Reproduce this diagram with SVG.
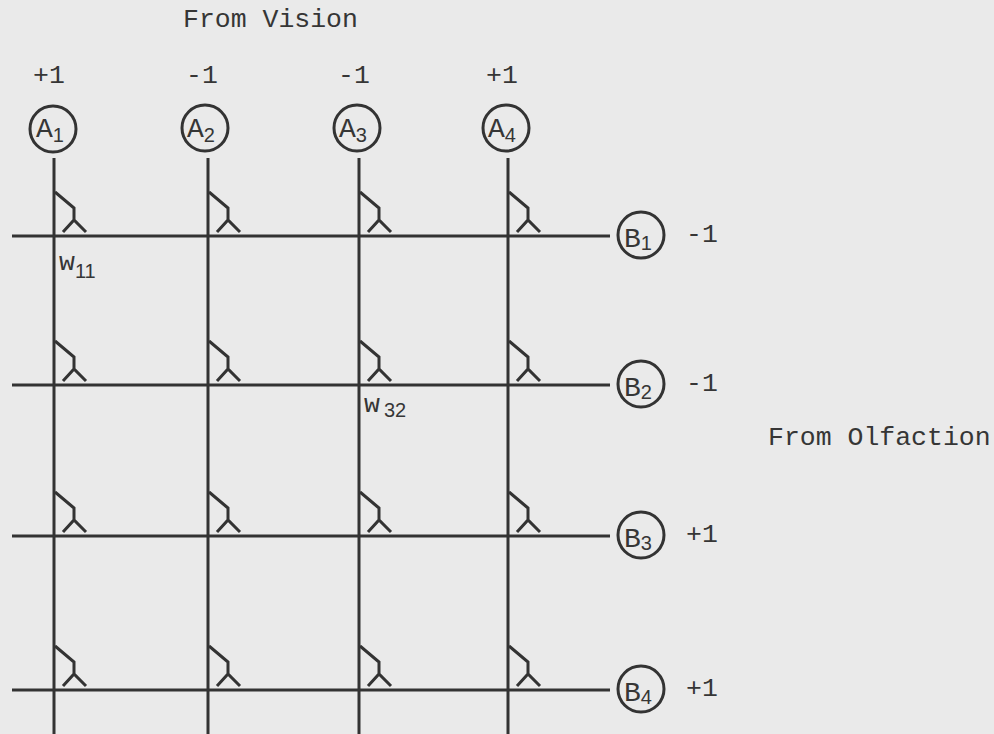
<svg xmlns="http://www.w3.org/2000/svg" width="994" height="734" viewBox="0 0 994 734">
<style>
.ln{stroke:#333;stroke-width:3;fill:none;stroke-linecap:butt}
.syn{stroke:#333;stroke-width:3;fill:none;stroke-linejoin:miter}
.node{stroke:#333;stroke-width:3;fill:none}
.t{font-family:"Liberation Mono","Courier New",monospace;font-size:26.5px;fill:#363636}
.lt{font-size:28px}
.sub{font-family:"Liberation Sans",Arial,sans-serif;font-size:20px}
</style>
<defs>
<path id="syn" class="syn" d="M0,-44 L19,-28 L19,-16 M8,-4 L19,-16 L31,-4"/>
</defs>
<rect width="994" height="734" fill="#eaeaea"/>
<text class="t" x="183" y="27">From Vision</text>
<text class="t" x="768" y="445">From Olfaction</text>
<g id="connectors">
<line class="ln" x1="54" y1="158" x2="54" y2="734"/>
<line class="ln" x1="208" y1="158" x2="208" y2="734"/>
<line class="ln" x1="359" y1="158" x2="359" y2="734"/>
<line class="ln" x1="508" y1="158" x2="508" y2="734"/>
<line class="ln" x1="12" y1="236" x2="610" y2="236"/>
<line class="ln" x1="12" y1="385" x2="610" y2="385"/>
<line class="ln" x1="12" y1="536" x2="610" y2="536"/>
<line class="ln" x1="12" y1="690" x2="610" y2="690"/>
</g>
<g id="synapses">
<use href="#syn" x="55" y="236"/><use href="#syn" x="209" y="236"/><use href="#syn" x="360" y="236"/><use href="#syn" x="509" y="236"/>
<use href="#syn" x="55" y="385"/><use href="#syn" x="209" y="385"/><use href="#syn" x="360" y="385"/><use href="#syn" x="509" y="385"/>
<use href="#syn" x="55" y="536"/><use href="#syn" x="209" y="536"/><use href="#syn" x="360" y="536"/><use href="#syn" x="509" y="536"/>
<use href="#syn" x="55" y="690"/><use href="#syn" x="209" y="690"/><use href="#syn" x="360" y="690"/><use href="#syn" x="509" y="690"/>
</g>
<g id="A1"><circle class="node" cx="53" cy="129" r="23"/><text class="t lt" x="36" y="137">A<tspan class="sub" dy="5">1</tspan></text><text class="t" x="33" y="83">+1</text></g>
<g id="A2"><circle class="node" cx="205" cy="128" r="23"/><text class="t lt" x="187" y="137">A<tspan class="sub" dy="5">2</tspan></text><text class="t" x="186" y="83">-1</text></g>
<g id="A3"><circle class="node" cx="357" cy="128" r="23"/><text class="t lt" x="339" y="137">A<tspan class="sub" dy="5">3</tspan></text><text class="t" x="338" y="83">-1</text></g>
<g id="A4"><circle class="node" cx="506" cy="128" r="23"/><text class="t lt" x="488" y="137">A<tspan class="sub" dy="5">4</tspan></text><text class="t" x="486" y="83">+1</text></g>
<g id="B1"><circle class="node" cx="641" cy="235" r="23"/><text class="t lt" x="624" y="247">B<tspan class="sub" dy="3">1</tspan></text><text class="t" x="686" y="242">-1</text></g>
<g id="B2"><circle class="node" cx="641" cy="384" r="23"/><text class="t lt" x="624" y="396">B<tspan class="sub" dy="3">2</tspan></text><text class="t" x="686" y="391">-1</text></g>
<g id="B3"><circle class="node" cx="641" cy="535" r="23"/><text class="t lt" x="624" y="547">B<tspan class="sub" dy="3">3</tspan></text><text class="t" x="686" y="542">+1</text></g>
<g id="B4"><circle class="node" cx="641" cy="689" r="23"/><text class="t lt" x="624" y="701">B<tspan class="sub" dy="3">4</tspan></text><text class="t" x="686" y="696">+1</text></g>
<g id="labels">
<text class="t" x="59" y="270">w<tspan class="sub" dy="8">11</tspan></text>
<text class="t" x="364" y="412">w<tspan class="sub" dx="4" dy="5">32</tspan></text>
</g>
</svg>
